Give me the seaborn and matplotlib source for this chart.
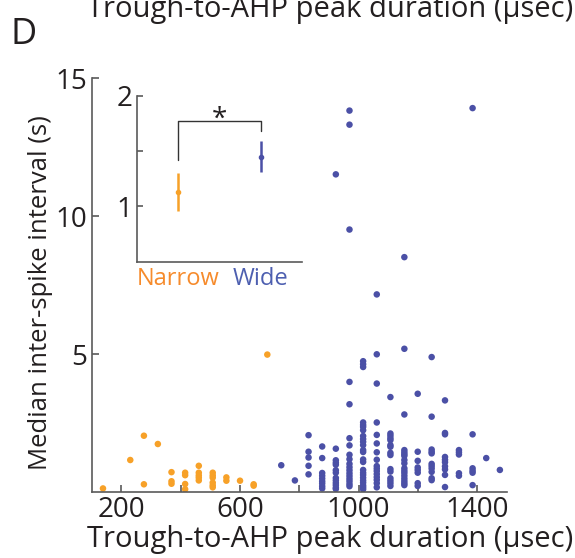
import matplotlib
matplotlib.use("Agg")
import matplotlib.pyplot as plt
import seaborn as sns
import pandas as pd

sns.set_theme(style="white")
plt.rcParams['font.family'] = ['Open Sans', 'DejaVu Sans']

ORANGE = "#F7A128"
BLUE = "#4B50A6"
NARROW_TXT = "#F68B2C"
WIDE_TXT = "#4D5FB0"
GRAY = "#5A5A5A"
TXT = "#231F20"

# ---- main scatter data (trough-to-AHP duration in usec, median ISI in s) ----
narrow_x = [138, 230, 276, 276, 323,
            369, 369, 369,
            415, 415, 415, 415,
            461, 461, 461, 461, 461,
            508, 508, 508, 508, 508, 508,
            554, 554, 600, 646, 646, 692]
narrow_y = [0.14, 1.17, 2.05, 0.29, 1.75,
            0.73, 0.40, 0.31,
            0.71, 0.62, 0.30, 0.11,
            0.96, 0.71, 0.61, 0.53, 0.43,
            0.71, 0.61, 0.53, 0.35, 0.25, 0.18,
            0.54, 0.42, 0.42, 0.29, 0.24, 4.99]

wide_x = ([739, 785] +
          [831] * 5 +
          [877] * 9 +
          [923] * 13 +
          [969] * 18 +
          [1015] * 24 +
          [1061] * 16 +
          [1107] * 15 +
          [1154] * 17 +
          [1199] * 8 +
          [1246] * 11 +
          [1291] * 10 +
          [1338] * 5 +
          [1384] * 6 +
          [1430, 1476])
wide_y = ([0.98, 0.43] +
          [2.07, 1.47, 1.26, 0.96, 0.65] +
          [1.66, 1.24, 0.70, 0.60, 0.50, 0.40, 0.32, 0.22, 0.14] +
          [11.52, 1.58, 1.16, 1.07, 1.00, 0.80, 0.71, 0.52, 0.43, 0.34, 0.26, 0.17, 0.12] +
          [13.83, 13.32, 9.52, 4.00, 3.19, 1.96, 1.70, 1.36, 1.20, 1.03, 0.91, 0.80,
           0.69, 0.59, 0.49, 0.40, 0.30, 0.22] +
          [4.75, 4.64, 4.54, 2.53, 2.44, 2.37, 2.25, 2.04, 1.93, 1.83, 1.71, 1.53,
           1.46, 1.19, 1.10, 0.81, 0.71, 0.63, 0.53, 0.43, 0.35, 0.25, 0.18, 0.11] +
          [7.17, 5.00, 3.94, 2.53, 2.08, 1.77, 1.45, 1.18, 0.95, 0.86, 0.77, 0.66,
           0.55, 0.45, 0.33, 0.18] +
          [3.45, 2.13, 2.05, 1.96, 1.89, 1.71, 1.65, 1.43, 1.35, 0.84, 0.75, 0.51,
           0.42, 0.33, 0.23] +
          [8.52, 5.20, 2.82, 1.53, 1.45, 1.38, 1.32, 1.17, 1.05, 0.87, 0.78, 0.70,
           0.60, 0.50, 0.41, 0.33, 0.26] +
          [3.57, 1.47, 1.14, 0.90, 0.81, 0.71, 0.33, 0.23] +
          [4.90, 2.74, 1.55, 1.47, 1.41, 1.03, 0.95, 0.86, 0.74, 0.51, 0.44] +
          [3.33, 2.15, 2.10, 1.28, 1.18, 1.09, 0.94, 0.83, 0.63, 0.19] +
          [1.53, 1.45, 1.37, 0.69, 0.60] +
          [13.92, 2.10, 0.87, 0.78, 0.71, 0.26] +
          [1.24, 0.81])

x_ticks = [200, 600, 1000, 1400]
x_minor = [400, 800, 1200]
y_ticks = [5, 10, 15]

# ---- inset data ----
groups = ["Narrow", "Wide"]
means = [1.13, 1.45]
errs = [0.17, 0.14]
inset_ticks = [1, 2]
inset_minor = [1.5]

df = pd.DataFrame({
    "x": narrow_x + wide_x,
    "y": narrow_y + wide_y,
    "group": ["Narrow"] * len(narrow_x) + ["Wide"] * len(wide_x),
})

fig = plt.figure(figsize=(5.75, 5.58), dpi=100)
W, H = 575.0, 558.0
l, r, b, t = 91.7, 507, 492.3, 78.3
ax = fig.add_axes([l / W, 1 - b / H, (r - l) / W, (b - t) / H])
sns.scatterplot(data=df, x="x", y="y", hue="group",
                palette={"Narrow": ORANGE, "Wide": BLUE},
                s=22, linewidth=0, legend=False, ax=ax)
ax.set_xlim(100, 1500)
ax.set_ylim(0, 15)
ax.set_xticks(x_ticks)
ax.set_xticks(x_minor, minor=True)
ax.set_yticks(y_ticks)
for sp in ["top", "right"]:
    ax.spines[sp].set_visible(False)
for sp in ["left", "bottom"]:
    ax.spines[sp].set_color(GRAY)
    ax.spines[sp].set_linewidth(1.2)
ax.tick_params(which="both", direction="in", length=5, width=1.2, color=GRAY,
               bottom=True, left=True, labelsize=20, labelcolor=TXT, pad=3)
ax.set_xlabel("Trough-to-AHP peak duration (µsec)", fontsize=21, color=TXT)
ax.set_ylabel("Median inter-spike interval (s)", fontsize=18.5, color=TXT)
ax.xaxis.set_label_coords((330 - l) / (r - l), (b - 547) / (b - t))
ax.xaxis.label.set_va("baseline")
ax.yaxis.set_label_coords((40 - l) / (r - l), (b - 293) / (b - t))
ax.yaxis.label.set_va("center")

# ---- inset ----
il, ir, ib, it = 136.7, 302, 261.7, 96
ins = fig.add_axes([il / W, 1 - ib / H, (ir - il) / W, (ib - it) / H])
ins.set_facecolor("none")
ins.set_xlim(0.5, 2.5)
ins.set_ylim(0.5, 2)
pos = [1, 2]
for p, m, e, c in zip(pos, means, errs, [ORANGE, BLUE]):
    ins.errorbar([p], [m], yerr=[e], fmt="o", color=c, ecolor=c,
                 markersize=3, elinewidth=1.8, capsize=0)
ins.plot([1, 1, 2, 2], [1.42, 1.775, 1.775, 1.68], color="#333333", lw=1)
ins.text(1.5, 1.72, "*", ha="center", va="baseline", fontsize=20, color=TXT)
ins.set_xticks(pos)
ins.set_xticklabels(groups)
for lbl, c in zip(ins.get_xticklabels(), [NARROW_TXT, WIDE_TXT]):
    lbl.set_color(c)
ins.set_yticks(inset_ticks)
ins.set_yticks(inset_minor, minor=True)
for sp in ["top", "right"]:
    ins.spines[sp].set_visible(False)
for sp in ["left", "bottom"]:
    ins.spines[sp].set_color(GRAY)
    ins.spines[sp].set_linewidth(1.2)
ins.tick_params(axis="y", which="both", direction="in", length=4, width=1.2,
                color=GRAY, left=True, labelsize=20, labelcolor=TXT, pad=3)
ins.tick_params(axis="x", length=0, labelsize=17, pad=4)

# ---- panel letter and clipped label from panel above ----
fig.text(10 / W, 1 - 44 / H, "D", fontsize=26, color=TXT, va="baseline", ha="left")
fig.text(330 / W, 1 - 17.3 / H, "Trough-to-AHP peak duration (µsec)",
         fontsize=21, color=TXT, ha="center", va="baseline")

fig.savefig("out.png", dpi=100)
